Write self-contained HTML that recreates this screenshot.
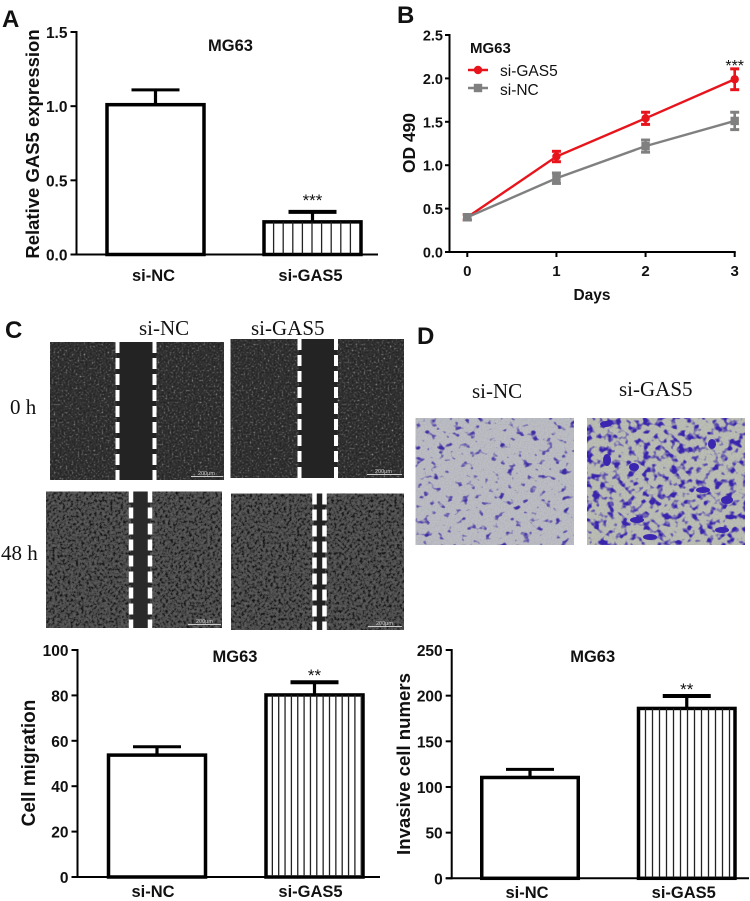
<!DOCTYPE html>
<html lang="en">
<head>
<meta charset="utf-8">
<title>GAS5 knockdown in MG63 cells</title>
<style>
html,body{margin:0;padding:0;background:#fff;}
svg{display:block;}
text{font-family:"Liberation Sans",Arial,sans-serif;fill:#111;}
.serif{font-family:"Liberation Serif","Times New Roman",serif;fill:#111;font-size:21px;}
.panel{font-size:24px;font-weight:bold;}
.scale{font-size:5.5px;fill:#ccc;}
</style>
</head>
<body>
<svg id="figure" width="750" height="901" viewBox="0 0 750 901" xmlns="http://www.w3.org/2000/svg">
<defs>
<filter id="fresh" x="0" y="0" width="100%" height="100%" color-interpolation-filters="sRGB">
<feTurbulence type="fractalNoise" baseFrequency="0.5" numOctaves="2" seed="4"/>
<feColorMatrix type="matrix" values="1 0 0 0 0 1 0 0 0 0 1 0 0 0 0 0 0 0 0 1"/>
<feComponentTransfer>
<feFuncR type="table" tableValues=".13 .13 .14 .15 .17 .19 .22 .3 .45 .6 .65"/>
<feFuncG type="table" tableValues=".13 .13 .14 .15 .17 .19 .22 .3 .45 .6 .65"/>
<feFuncB type="table" tableValues=".13 .13 .14 .15 .17 .19 .22 .3 .45 .6 .65"/>
</feComponentTransfer>
<feGaussianBlur stdDeviation="0.35"/>
</filter>
<filter id="grown" x="0" y="0" width="100%" height="100%" color-interpolation-filters="sRGB">
<feTurbulence type="fractalNoise" baseFrequency="0.38" numOctaves="3" seed="9"/>
<feColorMatrix type="matrix" values="1 0 0 0 0 1 0 0 0 0 1 0 0 0 0 0 0 0 0 1"/>
<feComponentTransfer>
<feFuncR type="table" tableValues=".05 .06 .08 .12 .22 .3 .33 .35 .38 .42 .44"/>
<feFuncG type="table" tableValues=".05 .06 .08 .12 .22 .3 .33 .35 .38 .42 .44"/>
<feFuncB type="table" tableValues=".05 .06 .08 .12 .22 .3 .33 .35 .38 .42 .44"/>
</feComponentTransfer>
<feGaussianBlur stdDeviation="0.35"/>
</filter>
<filter id="cellsSparse" x="0" y="0" width="100%" height="100%" color-interpolation-filters="sRGB">
<feTurbulence type="fractalNoise" baseFrequency="0.13 0.16" numOctaves="2" seed="7"/>
<feColorMatrix type="matrix" values="0 0 0 0 .24 0 0 0 0 .17 0 0 0 0 .64 1 0 0 0 0"/>
<feComponentTransfer><feFuncA type="table" tableValues="0 0 0 0 0 0 0 .6 1 1 1"/></feComponentTransfer>
</filter>
<filter id="cellsDense" x="0" y="0" width="100%" height="100%" color-interpolation-filters="sRGB">
<feTurbulence type="fractalNoise" baseFrequency="0.14 0.15" numOctaves="2" seed="21"/>
<feColorMatrix type="matrix" values="0 0 0 0 .22 0 0 0 0 .14 0 0 0 0 .68 1 0 0 0 0"/>
<feComponentTransfer><feFuncA type="table" tableValues="0 0 0 0 0 0 .5 1 1 1 1"/></feComponentTransfer>
</filter>
<filter id="grain" x="0" y="0" width="100%" height="100%" color-interpolation-filters="sRGB">
<feTurbulence type="fractalNoise" baseFrequency="0.7" numOctaves="1" seed="3"/>
<feColorMatrix type="matrix" values="0 0 0 0 .6 0 0 0 0 .6 0 0 0 0 .58 .8 0 0 0 -.3"/>
</filter>
</defs>

<text class="panel" x="2" y="27">A</text>
<text class="panel" x="397" y="23">B</text>
<text class="panel" x="5" y="338">C</text>
<text class="panel" x="417" y="344">D</text>

<!-- Panel C micrographs -->
<g>
<rect x="50" y="342" width="174" height="138" fill="#2a2a2a" filter="url(#fresh)"/>
<rect x="117" y="342" width="39" height="138" fill="#232323"/>
<line x1="117.5" y1="342" x2="117.5" y2="480" stroke="#fff" stroke-width="4" stroke-dasharray="11 5"/>
<line x1="154.5" y1="342" x2="154.5" y2="480" stroke="#fff" stroke-width="4" stroke-dasharray="11 5"/>
<line x1="191" y1="476.5" x2="223" y2="476.5" stroke="#ccc"/><text class="scale" x="198" y="475">200μm</text>
</g>
<g>
<rect x="230.5" y="339" width="173.5" height="139" fill="#2a2a2a" filter="url(#fresh)"/>
<rect x="299" y="339" width="38" height="139" fill="#232323"/>
<line x1="299.5" y1="339" x2="299.5" y2="478" stroke="#fff" stroke-width="4" stroke-dasharray="11 5"/>
<line x1="336" y1="339" x2="336" y2="478" stroke="#fff" stroke-width="4" stroke-dasharray="11 5"/>
<line x1="367" y1="474.5" x2="402" y2="474.5" stroke="#ccc"/><text class="scale" x="375" y="473">200μm</text>
</g>
<g>
<rect x="46" y="491.5" width="176" height="136.5" fill="#444" filter="url(#grown)"/>
<rect x="131" y="491.5" width="19" height="136.5" fill="#2a2a2a"/>
<line x1="131" y1="491.5" x2="131" y2="628" stroke="#fff" stroke-width="4.5" stroke-dasharray="11 5"/>
<line x1="150" y1="491.5" x2="150" y2="628" stroke="#fff" stroke-width="4.5" stroke-dasharray="11 5"/>
<line x1="188" y1="624.5" x2="221" y2="624.5" stroke="#ccc"/><text class="scale" x="196" y="623">200μm</text>
</g>
<g>
<rect x="231" y="493.5" width="173" height="136.5" fill="#444" filter="url(#grown)"/>
<rect x="314" y="493.5" width="11" height="136.5" fill="#222"/>
<line x1="314.5" y1="493.5" x2="314.5" y2="630" stroke="#fff" stroke-width="4.5" stroke-dasharray="11 5"/>
<line x1="324.5" y1="493.5" x2="324.5" y2="630" stroke="#fff" stroke-width="4.5" stroke-dasharray="11 5"/>
<line x1="368" y1="626.5" x2="402" y2="626.5" stroke="#ccc"/><text class="scale" x="376" y="625">200μm</text>
</g>
<text class="serif" x="139" y="335">si-NC</text>
<text class="serif" x="251" y="335">si-GAS5</text>
<text class="serif" x="10" y="414">0 h</text>
<text class="serif" x="1" y="560">48 h</text>

<!-- Panel D micrographs -->
<g>
<rect x="415.5" y="418" width="158.5" height="127" fill="#bcbec6"/>
<rect x="415.5" y="418" width="158.5" height="127" filter="url(#grain)"/>
<rect x="415.5" y="418" width="158.5" height="127" filter="url(#cellsSparse)"/>
</g>
<g>
<rect x="587" y="418" width="158" height="127" fill="#bcbfb6"/>
<rect x="587" y="418" width="158" height="127" filter="url(#grain)"/>
<rect x="587" y="418" width="158" height="127" filter="url(#cellsDense)"/>
<g fill="#3a26b0">
<ellipse cx="606" cy="424" rx="6" ry="3"/><ellipse cx="607" cy="460" rx="4" ry="6"/>
<ellipse cx="634" cy="467" rx="5" ry="4"/><ellipse cx="703" cy="490" rx="7" ry="3"/>
<ellipse cx="727" cy="500" rx="6" ry="4"/><ellipse cx="637" cy="520" rx="7" ry="3"/>
<ellipse cx="650" cy="537" rx="7" ry="3"/><ellipse cx="722" cy="530" rx="7" ry="3"/>
<ellipse cx="712" cy="444" rx="4" ry="5"/>
</g>
</g>
<text class="serif" x="472" y="398">si-NC</text>
<text class="serif" x="619" y="396">si-GAS5</text>

<g id="charts"></g>
</svg>

<script>
// Panel A
const exprCategories = ['si-NC', 'si-GAS5'];
const exprValues = [1.01, 0.22];
const exprErrors = [0.10, 0.067];
const exprTicks = ['0.0', '0.5', '1.0', '1.5'];
const exprStars = ['', '***'];

// Panel B
const days = [0, 1, 2, 3];
const dayTicks = ['0', '1', '2', '3'];
const odTicks = ['0.0', '0.5', '1.0', '1.5', '2.0', '2.5'];
const odGas5 = [0.40, 1.10, 1.54, 1.99];
const odGas5Err = [0.03, 0.06, 0.07, 0.12];
const odNc = [0.40, 0.85, 1.22, 1.51];
const odNcErr = [0.03, 0.06, 0.07, 0.10];

// Panel C chart
const migrationCategories = ['si-NC', 'si-GAS5'];
const migrationValues = [53.7, 80.2];
const migrationErrors = [3.7, 5.6];
const migrationTicks = ['0', '20', '40', '60', '80', '100'];
const migrationStars = ['', '**'];

// Panel D chart
const invasionCategories = ['si-NC', 'si-GAS5'];
const invasionValues = [110.4, 186];
const invasionErrors = [8.9, 13.6];
const invasionTicks = ['0', '50', '100', '150', '200', '250'];
const invasionStars = ['', '**'];

const NS = 'http://www.w3.org/2000/svg';
const root = document.getElementById('charts');

function shape(parent, tag, attrs, name) {
  const el = document.createElementNS(NS, tag);
  for (const k in attrs) el.setAttribute(k, attrs[k]);
  
  
  parent.appendChild(el);
  return el;
}
function label(parent, str, attrs, name) {
  const el = shape(parent, 'text', attrs, name);
  el.textContent = str;
  return el;
}
function group(parent, name) { return shape(parent, 'g', {}, name); }

function barChart(o) {
  const g = group(root, o.name);
  const maxV = parseFloat(o.ticks[o.ticks.length - 1]);
  const minV = parseFloat(o.ticks[0]);
  const y = v => o.y0 + (v - minV) / (maxV - minV) * (o.y1 - o.y0);
  const x = i => o.x0 + i * o.step;
  const baseY = y(minV);

  o.values.forEach((v, i) => {
    const cx = x(i);
    const left = cx - o.barW / 2;
    const top = y(v);
    const bar = group(g, 'bar-' + o.cats[i].toLowerCase());
    shape(bar, 'line', { x1: cx, x2: cx, y1: top, y2: y(v + o.errs[i]), stroke: '#000', 'stroke-width': 3.2 }, 'error-stem');
    shape(bar, 'line', { x1: cx - 24, x2: cx + 24, y1: y(v + o.errs[i]), y2: y(v + o.errs[i]), stroke: '#000', 'stroke-width': i ? 4 : 3 }, 'error-cap');
    shape(bar, 'rect', { x: left, y: top, width: o.barW, height: baseY - top, fill: '#fff', stroke: '#000', 'stroke-width': 3.5 }, 'bar-body');
    if (i === 1) {
      for (let hx = left + o.hatch; hx < left + o.barW - 1; hx += o.hatch) {
        shape(bar, 'line', { x1: hx, x2: hx, y1: top, y2: baseY, stroke: '#222', 'stroke-width': 1.3 }, 'bar-hatch');
      }
    }
    if (o.stars[i]) {
      label(g, o.stars[i], { x: cx + o.starDx, y: y(v + o.errs[i]) + o.starDy, 'text-anchor': 'middle', 'font-size': 17 }, 'significance-stars');
    }
    label(g, o.cats[i], { x: cx + o.catDx, y: o.catY, 'text-anchor': 'middle', 'font-size': 16.5, 'font-weight': 'bold' }, 'x-tick-label');
  });

  shape(g, 'line', { x1: o.axisX, x2: o.axisX, y1: o.y1 - 1, y2: baseY + 1, stroke: '#000', 'stroke-width': 2 }, 'y-axis');
  shape(g, 'line', { x1: o.axisX - 6, x2: o.axisEnd, y1: baseY, y2: baseY, stroke: '#000', 'stroke-width': 2 }, 'x-axis');
  o.ticks.forEach(t => {
    const ty = y(parseFloat(t));
    shape(g, 'line', { x1: o.axisX - 6, x2: o.axisX, y1: ty, y2: ty, stroke: '#000', 'stroke-width': 2 }, 'y-tick');
    label(g, t, { x: o.axisX - 9, y: ty + 6, 'text-anchor': 'end', 'font-size': 15.5, 'font-weight': 'bold' }, 'y-tick-label');
  });
  label(g, 'MG63', { x: o.titleX, y: o.titleY, 'text-anchor': 'middle', 'font-size': 16.5, 'font-weight': 'bold' }, 'chart-title');
  label(g, o.yTitle, { x: 0, y: 0, transform: 'translate(' + o.yTitleX + ',' + o.yTitleY + ') rotate(-90)', 'text-anchor': 'middle', 'font-size': o.yTitleSize, 'font-weight': 'bold' }, 'y-axis-title');
}

barChart({
  name: 'expression-bar-chart', cats: exprCategories, values: exprValues, errs: exprErrors, ticks: exprTicks, stars: exprStars,
  x0: 155.5, step: 157, barW: 97, y0: 254.5, y1: 32, axisX: 76.5, axisEnd: 378, hatch: 9.6, catDx: -2, catY: 281,
  titleX: 230.5, titleY: 51, yTitle: 'Relative GAS5 expression', yTitleX: 39, yTitleY: 144, yTitleSize: 18.5, starDx: 0, starDy: -6
});
barChart({
  name: 'migration-bar-chart', cats: migrationCategories, values: migrationValues, errs: migrationErrors, ticks: migrationTicks, stars: migrationStars,
  x0: 157, step: 157.5, barW: 97, y0: 877, y1: 650, axisX: 77.5, axisEnd: 380, hatch: 6.35, catDx: -4, catY: 897,
  titleX: 235, titleY: 662, yTitle: 'Cell migration', yTitleX: 35, yTitleY: 763, yTitleSize: 19, starDx: 0, starDy: -1
});
barChart({
  name: 'invasion-bar-chart', cats: invasionCategories, values: invasionValues, errs: invasionErrors, ticks: invasionTicks, stars: invasionStars,
  x0: 530, step: 156.75, barW: 96.5, y0: 878.3, y1: 650, axisX: 451.7, axisEnd: 749, hatch: 7, catDx: -3, catY: 898,
  titleX: 592.7, titleY: 662, yTitle: 'Invasive cell numers', yTitleX: 410, yTitleY: 764, yTitleSize: 18.6, starDx: 0, starDy: -1
});

// Line chart (panel B)
(function () {
  const g = group(root, 'proliferation-line-chart');
  const yMax = parseFloat(odTicks[odTicks.length - 1]);
  const y = v => 252 - v / yMax * 217;
  const x = d => 467.3 + d / days[days.length - 1] * 267.4;
  const RED = '#e8141c', GRAY = '#808080';

  function series(vals, errs, color, marker, name) {
    const s = group(g, name);
    shape(s, 'polyline', { points: days.map((d, i) => x(d) + ',' + y(vals[i])).join(' '), fill: 'none', stroke: color, 'stroke-width': 2.4 }, 'series-line');
    days.forEach((d, i) => {
      const cx = x(d), hi = y(vals[i] + errs[i]), lo = y(vals[i] - errs[i]);
      shape(s, 'line', { x1: cx, x2: cx, y1: hi, y2: lo, stroke: color, 'stroke-width': 2.6 }, 'error-stem');
      shape(s, 'line', { x1: cx - 4.5, x2: cx + 4.5, y1: hi, y2: hi, stroke: color, 'stroke-width': 3 }, 'error-cap');
      shape(s, 'line', { x1: cx - 4.5, x2: cx + 4.5, y1: lo, y2: lo, stroke: color, 'stroke-width': 3 }, 'error-cap');
      if (marker === 'circle') shape(s, 'circle', { cx: cx, cy: y(vals[i]), r: 4.2, fill: color }, 'data-point');
      else shape(s, 'rect', { x: cx - 4.2, y: y(vals[i]) - 4.2, width: 8.4, height: 8.4, fill: color }, 'data-point');
    });
  }
  series(odGas5, odGas5Err, RED, 'circle', 'series-si-gas5');
  series(odNc, odNcErr, GRAY, 'square', 'series-si-nc');

  shape(g, 'line', { x1: 449.5, x2: 449.5, y1: 34, y2: 253, stroke: '#000', 'stroke-width': 2 }, 'y-axis');
  shape(g, 'line', { x1: 445, x2: x(days[3]) + 1, y1: 252, y2: 252, stroke: '#000', 'stroke-width': 2 }, 'x-axis');
  odTicks.forEach(t => {
    const ty = y(parseFloat(t));
    shape(g, 'line', { x1: 445, x2: 449.5, y1: ty, y2: ty, stroke: '#000', 'stroke-width': 2 }, 'y-tick');
    label(g, t, { x: 443, y: ty + 5.5, 'text-anchor': 'end', 'font-size': 14.5, 'font-weight': 'bold' }, 'y-tick-label');
  });
  days.forEach((d, i) => {
    shape(g, 'line', { x1: x(d), x2: x(d), y1: 252, y2: 257, stroke: '#000', 'stroke-width': 2 }, 'x-tick');
    label(g, dayTicks[i], { x: x(d), y: 276, 'text-anchor': 'middle', 'font-size': 15, 'font-weight': 'bold' }, 'x-tick-label');
  });
  label(g, 'Days', { x: 592, y: 300, 'text-anchor': 'middle', 'font-size': 15.5, 'font-weight': 'bold' }, 'x-axis-title');
  label(g, 'OD 490', { x: 0, y: 0, transform: 'translate(415,143) rotate(-90)', 'text-anchor': 'middle', 'font-size': 17.4, 'font-weight': 'bold' }, 'y-axis-title');
  label(g, 'MG63', { x: 470, y: 53, 'font-size': 15, 'font-weight': 'bold' }, 'chart-title');
  label(g, '***', { x: x(days[3]), y: 71, 'text-anchor': 'middle', 'font-size': 16 }, 'significance-stars');

  const l1 = group(g, 'legend-entry-si-gas5');
  shape(l1, 'line', { x1: 468, x2: 488, y1: 70, y2: 70, stroke: RED, 'stroke-width': 2.4 }, 'legend-line');
  shape(l1, 'circle', { cx: 478, cy: 70, r: 4.2, fill: RED }, 'legend-marker');
  label(l1, 'si-GAS5', { x: 500, y: 76, 'font-size': 15.5 }, 'legend-label');
  const l2 = group(g, 'legend-entry-si-nc');
  shape(l2, 'line', { x1: 468, x2: 488, y1: 88, y2: 88, stroke: GRAY, 'stroke-width': 2.4 }, 'legend-line');
  shape(l2, 'rect', { x: 473.8, y: 83.8, width: 8.4, height: 8.4, fill: GRAY }, 'legend-marker');
  label(l2, 'si-NC', { x: 500, y: 95, 'font-size': 15.5 }, 'legend-label');
})();
</script>
</body>
</html>
